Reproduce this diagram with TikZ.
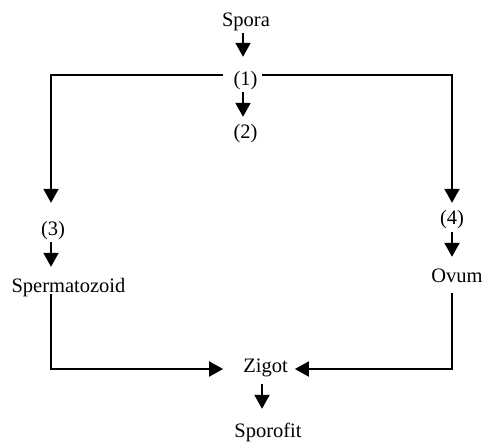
\documentclass[tikz,border=0pt]{standalone}
\usepackage{fontspec}
\setmainfont{Liberation Serif}
\usetikzlibrary{arrows.meta, positioning, calc}

\begin{document}
\begin{tikzpicture}[
    x=1pt, y=-1pt,
    stage/.style={
        inner sep=0pt, anchor=base,
        text height=14pt, text depth=4.5pt,
        font=\fontsize{20.5}{24}\selectfont
    },
    line/.style={line width=2pt, line join=miter},
    arrow/.style={line, -{Triangle[length=14pt,width=15pt]}}
]
\useasboundingbox (0,0) rectangle (484,445);

% Nodes
\node[stage] (spora)    at (246,26)  {Spora};
\node[stage] (one)      at (245.5,85) {(1)};
\node[stage] (two)      at (245.5,138) {(2)};
\node[stage] (three)    at (53,235)  {(3)};
\node[stage] (sperm)    at (68.5,292) {Spermatozoid};
\node[stage] (four)     at (452,224) {(4)};
\node[stage] (ovum)     at (457,282) {Ovum};
\node[stage] (zigot)    at (265.5,372) {Zigot};
\node[stage] (sporofit) at (268,437) {Sporofit};

% Corners of the two branches
\coordinate (lt) at (51,75);
\coordinate (rt) at (452,75);
\coordinate (lb) at (51,369);
\coordinate (rb) at (452,369);

% Main line
\draw[arrow, shorten <=2.5pt, shorten >=14pt] ([xshift=-3pt]spora.south) -- ([xshift=-3pt]spora.south |- one.north);
\draw[arrow, shorten <=2.5pt, shorten >=7pt] ([xshift=-2.5pt]one.south) -- ([xshift=-2.5pt]one.south |- two.north);

% Branches
\draw[arrow, shorten <=10pt, shorten >=18pt] (lt -| one.west) -- (lt) -- (lt |- three.north);
\draw[arrow, shorten <=4pt, shorten >=7pt] (rt -| one.east) -- (rt) -- (rt |- four.north);
\draw[arrow, shorten <=2.5pt, shorten >=11pt] (three.south -| lt) -- (sperm.north -| lt);
\draw[arrow, shorten <=3.5pt, shorten >=11pt] (four.south) -- (four.south |- ovum.north);

% Fertilisation
\draw[arrow, shorten <=-3pt, shorten >=20pt] (sperm.south -| lb) -- (lb) -- (lb -| zigot.west);
\draw[arrow, shorten <=6.5pt, shorten >=7pt] (ovum.south -| rb) -- (rb) -- (rb -| zigot.east);
\draw[arrow, shorten <=7.5pt, shorten >=14pt] ([xshift=-3.5pt]zigot.south) -- ([xshift=-3.5pt]zigot.south |- sporofit.north);

\end{tikzpicture}
\end{document}
